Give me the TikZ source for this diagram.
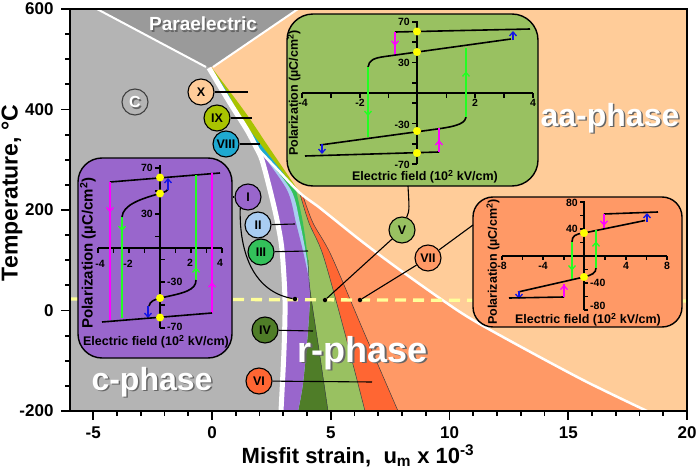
\documentclass[tikz,border=0pt]{standalone}
\usepackage{fontspec}
\setmainfont{Liberation Sans}
\usetikzlibrary{arrows.meta,decorations.markings}
\definecolor{cgray}{HTML}{B4B4B4}
\definecolor{pgray}{HTML}{9A9A9A}
\definecolor{peach}{HTML}{FFCC99}
\definecolor{salmon}{HTML}{FF9966}
\definecolor{redor}{HTML}{FF6633}
\definecolor{lgreen}{HTML}{99C161}
\definecolor{dgreen}{HTML}{4F7D28}
\definecolor{mgreen}{HTML}{33C15A}
\definecolor{lblue}{HTML}{A9CDF2}
\definecolor{purp}{HTML}{9966CC}
\definecolor{cyanb}{HTML}{1FA9D1}
\definecolor{ygreen}{HTML}{A9C300}
\definecolor{dashy}{HTML}{FFFF99}
\definecolor{magent}{HTML}{FF00FF}
\definecolor{greenl}{HTML}{22FF22}
\definecolor{bluea}{HTML}{1414E6}
\definecolor{yel}{HTML}{FFFF00}
\begin{document}
\begin{tikzpicture}[x=1pt,y=-1pt,
  fs/.style={font=\bfseries\fontsize{#1}{#1}\selectfont},
  lab/.style={circle,draw=black,line width=1.1pt,minimum size=26pt,inner sep=0pt,fs=12.5},
  dotb/.style={circle,fill=black,minimum size=4.5pt,inner sep=0pt},
  ydot/.style={circle,fill=yel,minimum size=8pt,inner sep=0pt},
  conn/.style={line width=1.1pt},
  hl/.style={line width=1.6pt,black},
  midarr/.style={postaction={decorate},decoration={markings,mark=at position #1 with {\arrow{Straight Barb[length=4pt,width=7pt,line width=1.3pt]}}}},
  tipup/.style={-{Straight Barb[length=4pt,width=7pt,line width=1.3pt]}},
  mg/.style={magent,line width=1.7pt},
  gr/.style={greenl,line width=1.7pt},
  bl/.style={bluea,line width=1.7pt},
  inset/.style={draw=black,line width=1.4pt,rounded corners=#1,inner sep=0pt},
  tk/.style={fs=10.5,inner sep=1pt},
  ptxt/.style={text=white},
  pshadow/.style={text=black!60,xshift=1.5pt,yshift=-1.5pt},
  thinb/.style={black!75,line width=0.5pt},
]
\fill[white] (0,0) rectangle (697,471);
\useasboundingbox (0,0) rectangle (697,471);

% ---------- phase regions ----------
\fill[cgray] (70,9) rectangle (687,411);
\fill[pgray] (97,9) -- (207,67) -- (212,67) -- (298,9) -- cycle;
\fill[peach] (212,67) -- (298,9) -- (687,9) -- (687,411) -- plot[smooth] coordinates {(281,411) (284,350) (285,300) (282,250) (277,220) (270,190) (262,160) (256,147) (247,130) (230,103) (209,68)} -- cycle;
% thin wedges IX and VIII
\fill[ygreen] plot[smooth] coordinates {(209,68) (230,103) (247,130) (256,147)} -- plot[smooth] coordinates {(256,147) (276,168) (300,193)} -- plot[smooth] coordinates {(300,193) (266,143) (250,119) (231,93) (212,68)} -- cycle;
\fill[cyanb] plot[smooth] coordinates {(209,68) (230,103) (247,130) (256,147)} -- plot[smooth] coordinates {(256,147) (276,168) (298,192)} -- plot[smooth] coordinates {(298,192) (261,145) (241,118) (227,92) (211,68)} -- cycle;
% VII
\fill[salmon] plot[smooth] coordinates {(256,147) (276,168) (300,193) (320,208) (360,240) (400,270) (460,312) (503,337) (583,380) (647,411)} -- plot[smooth] coordinates {(281,411) (284,350) (285,300) (282,250) (277,220) (270,190) (262,160) (256,147)} -- cycle;
% VI
\fill[redor] plot[smooth] coordinates {(256,147) (276,168) (303,196)} -- plot[smooth] coordinates {(303,196) (313,223) (331,255) (363,330) (398,411)} -- plot[smooth] coordinates {(281,411) (284,350) (285,300) (282,250) (277,220) (270,190) (262,160) (256,147)} -- cycle;
% V
\fill[lgreen] plot[smooth] coordinates {(256,147) (276,168) (300,194)} -- plot[smooth] coordinates {(300,194) (309,223) (323,255) (344,330) (365,411)} -- plot[smooth] coordinates {(281,411) (284,350) (285,300) (282,250) (277,220) (270,190) (262,160) (256,147)} -- cycle;
% III
\fill[mgreen] plot[smooth] coordinates {(256,147) (276,168) (296,190)} -- plot[smooth] coordinates {(296,190) (303,223) (308,260) (310,290) (319,350) (328,411)} -- plot[smooth] coordinates {(281,411) (284,350) (285,300) (282,250) (277,220) (270,190) (262,160) (256,147)} -- cycle;
% IV
\fill[dgreen] plot[smooth] coordinates {(310,290) (319,350) (328,411)} -- plot[smooth] coordinates {(298,411) (303,383) (308,330) (310,290)} -- cycle;
% II
\fill[lblue] (256,147) -- plot[smooth] coordinates {(262,153) (291,190) (300,223) (307,260) (310,290) (308,330) (303,383) (298,411)} -- plot[smooth] coordinates {(281,411) (284,350) (285,300) (282,250) (277,220) (270,190) (262,160) (256,147)} -- cycle;
% I
\fill[purp] (256,147) -- plot[smooth] coordinates {(259,150) (287,190) (296,223) (305,260) (310,290) (308,330) (303,383) (298,411)} -- plot[smooth] coordinates {(281,411) (284,350) (285,300) (282,250) (277,220) (270,190) (262,160) (256,147)} -- cycle;
% thin boundaries
\draw[thinb] plot[smooth] coordinates {(303,196) (313,223) (331,255) (363,330) (398,411)};
\draw[thinb] plot[smooth] coordinates {(300,194) (309,223) (323,255) (344,330) (365,411)};
\draw[thinb] plot[smooth] coordinates {(308,260) (310,290) (319,350) (328,411)};
% white boundaries
\draw[white,line width=2.5pt] plot[smooth] coordinates {(256,147) (276,168) (300,193) (320,208) (360,240) (400,270) (460,312) (503,337) (583,380) (647,411)};
\draw[white,line width=5pt] plot[smooth] coordinates {(209,68) (230,103) (247,130) (256,147) (262,160) (270,190) (277,220) (282,250) (285,300) (284,350) (281,411)};
\draw[white,line width=2pt] (97,9) -- (206,67);
\draw[white,line width=2pt] (213,67) -- (298,9);
% dashed line
\draw[dashy,line width=3.3pt,dash pattern=on 11pt off 7pt] (71,299) -- (686,301);

% ---------- phase names ----------
\node[fs=19,pshadow] (para0) at (203,24) {Paraelectric};
\node[fs=19,ptxt] (para) at (203,24) {Paraelectric};
\node[fs=32,pshadow] (aa0) at (610,118) {aa-phase};
\node[fs=32,ptxt] (aa) at (610,118) {aa-phase};
\node[fs=36,pshadow] (rr0) at (363,353) {r-phase};
\node[fs=36,ptxt] (rr) at (363,353) {r-phase};
\node[fs=32,pshadow] (cc0) at (152,382) {c-phase};
\node[fs=32,ptxt] (cc) at (152,382) {c-phase};

% ---------- inset V (green) ----------
\node[inset=26pt,fill=lgreen,minimum width=251pt,minimum height=172pt] (insetV) at (412.5,100) {};
\draw[hl] (302,93) -- (533,93);
\foreach \i in {0,...,8} \draw[hl] ({302+28.875*\i},93) -- ++(0,5);
\draw[hl] (417,21) -- (417,164);
\foreach \p in {70,50,30,10,-10,-30,-50,-70} \draw[hl] (417,{93-1.014*\p}) -- ++(-5,0);
\node[tk] (gx1) at (303,103) {-4};
\node[tk] (gx2) at (360,103) {-2};
\node[tk] (gx3) at (475,103) {2};
\node[tk] (gx4) at (533,103) {4};
\node[tk,anchor=east] (gy1) at (411,22) {70};
\node[tk,anchor=east] (gy2) at (411,63) {30};
\node[tk,anchor=east] (gy3) at (411,125) {-30};
\node[tk,anchor=east] (gy4) at (411,165) {-70};
\node[fs=12.5,rotate=90] (gpy) at (294,93) {Polarization (µC/cm\textsuperscript{2})};
\node[fs=12.5] (gpx) at (425,177) {Electric field (10\textsuperscript{2} kV/cm)};
\draw[hl] (395,32) -- (530,29);
\draw[mg,midarr=0.6] (395,32) -- (395,55);
\draw[hl] (368,67) .. controls (369,60) and (374,58) .. (385,56.5) -- (511,39);
\draw[bl,tipup] (513,40) -- (513,31);
\draw[gr,midarr=0.7] (368,67) -- (368,137);
\draw[hl] (320,145) -- (430,130) .. controls (452,127) and (465,125) .. (466,117);
\draw[gr,midarr=0.66] (466,117) -- (466,48);
\draw[bl,tipup] (322,144) -- (322,154);
\draw[hl] (305,156) -- (439,152);
\draw[mg,midarr=0.5] (439,152) -- (439,128);
\node[ydot] (gd1) at (417,31.5) {};
\node[ydot] (gd2) at (417,52) {};
\node[ydot] (gd3) at (417,131) {};
\node[ydot] (gd4) at (417,153) {};

% ---------- inset I (purple) ----------
\node[inset=24pt,fill=purp,minimum width=154pt,minimum height=200pt] (insetI) at (155,258) {};
\draw[hl] (98,248) -- (222,248);
\foreach \i in {0,...,8} \draw[hl] ({98+15.5*\i},248) -- ++(0,5);
\draw[hl] (160,165) -- (160,328);
\foreach \p in {70,50,30,10} \draw[hl] (160,{248-1.14*\p}) -- ++(-5,0);
\foreach \p in {-10,-30,-50,-70} \draw[hl] (160,{248-1.14*\p}) -- ++(5,0);
\node[tk] (px1) at (100,264) {-4};
\node[tk] (px2) at (128,264) {-2};
\node[tk] (px3) at (190,263) {2};
\node[tk] (px4) at (220,263) {4};
\node[tk,anchor=east] (py1) at (154,168) {70};
\node[tk,anchor=east] (py2) at (154,214) {30};
\node[tk,anchor=west] (py3) at (166,282) {-30};
\node[tk,anchor=west] (py4) at (166,327) {-70};
\node[fs=15,rotate=90] (ppy) at (88,253) {Polarization (µC/cm\textsuperscript{2})};
\node[fs=12.5] (ppx) at (156,342) {Electric field (10\textsuperscript{2} kV/cm)};
\draw[hl] (110,182) -- (220,173);
\draw[mg,midarr=0.22] (110,182) -- (110,320);
\draw[gr,midarr=0.14] (122,217) -- (122,318);
\draw[hl] (122,217) .. controls (123,205) and (140,199) .. (160,193.5) .. controls (165,192) and (168,191) .. (168,188);
\draw[bl,tipup] (168,190) -- (168,178);
\draw[gr,midarr=0.12] (196,280) -- (196,175);
\draw[hl] (149,306) .. controls (150,301) and (155,299.5) .. (160,298) .. controls (185,293) and (196,290) .. (196,280);
\draw[bl,tipup] (148,306) -- (148,318);
\draw[mg,midarr=0.22] (212,313) -- (212,173);
\draw[hl] (102,322) -- (212,313);
\node[ydot] (pd1) at (160,177.5) {};
\node[ydot] (pd2) at (160,193.5) {};
\node[ydot] (pd3) at (160,298) {};
\node[ydot] (pd4) at (160,317.5) {};

% ---------- inset VII (orange) ----------
\node[inset=20pt,fill=salmon,minimum width=209pt,minimum height=130pt] (insetVII) at (577.5,262) {};
\draw[hl] (502,256) -- (667,256);
\foreach \i in {0,...,8} \draw[hl] ({502+20.625*\i},256) -- ++(0,4);
\draw[hl] (584,201) -- (584,310);
\foreach \p in {80,60,40,20} \draw[hl] (584,{256-0.675*\p}) -- ++(-4,0);
\foreach \p in {-20,-40,-60,-80} \draw[hl] (584,{256-0.675*\p}) -- ++(4,0);
\node[tk] (ox1) at (502,266) {-8};
\node[tk] (ox2) at (543,266) {-4};
\node[tk] (ox3) at (626,266) {4};
\node[tk] (ox4) at (667,266) {8};
\node[tk,anchor=east] (oy1) at (579,203) {80};
\node[tk,anchor=east] (oy2) at (579,229) {40};
\node[tk,anchor=west] (oy3) at (589,283) {-40};
\node[tk,anchor=west] (oy4) at (589,305.5) {-80};
\node[fs=12.5,rotate=90] (opy) at (493,262) {Polarization (µC/cm\textsuperscript{2})};
\node[fs=12.5] (opx) at (588,319.5) {Electric field (10\textsuperscript{2} kV/cm)};
\draw[hl] (604,214) -- (658,212);
\draw[mg,midarr=0.85] (604,214) -- (604,228);
\draw[hl] (572,242) .. controls (572,236) and (575,234) .. (584,233) -- (645,220.5);
\draw[bl,tipup] (647,222) -- (647,213);
\draw[gr,midarr=0.75] (572,242) -- (572,280);
\draw[hl] (518,292) -- (584,277) .. controls (592,275) and (596,273) .. (596,268);
\draw[gr,midarr=0.7] (596,268) -- (596,230);
\draw[bl,tipup] (519,291) -- (519,299);
\draw[hl] (509,298) -- (564,297);
\draw[mg,midarr=0.95] (564,297) -- (564,284);
\node[ydot] (od1) at (584,233) {};
\node[ydot] (od2) at (584,277) {};

% ---------- label circles ----------
\node[lab,fill=cgray,draw=black!75] (cC) at (135,102) {};
\node[fs=16,pshadow] (cC0) at (135,102) {C};
\node[fs=16,ptxt] (cCt) at (135,102) {C};
\node[lab,fill=peach] (cX) at (201,92) {X};
\node[lab,fill=ygreen] (cIX) at (217,118) {IX};
\node[lab,fill=cyanb] (cVIII) at (226,144) {VIII};
\node[lab,fill=purp] (cI) at (248,197) {I};
\node[lab,fill=lblue] (cII) at (258,225) {II};
\node[lab,fill=mgreen] (cIII) at (261,252) {III};
\node[lab,fill=dgreen] (cIV) at (265,330) {IV};
\node[lab,fill=lgreen] (cV) at (402,230) {V};
\node[lab,fill=redor] (cVI) at (259,381) {VI};
\node[lab,fill=salmon] (cVII) at (428,258) {VII};
\node[dotb] (d1) at (295,299) {};
\node[dotb] (d2) at (325,300) {};
\node[dotb] (d3) at (360,300) {};
\coordinate (eX) at (248,92);
\coordinate (eIX) at (252,118);
\coordinate (eVIII) at (260,144);
\coordinate (eII) at (295,224);
\coordinate (eIII) at (308,251);
\coordinate (eIV) at (313,331);
\coordinate (eVI) at (372,382);
\coordinate (eVII) at (473,225);
\coordinate (eV) at (408,186);
\draw[conn] (cX) -- (eX);
\draw[conn] (cIX) -- (eIX);
\draw[conn] (cVIII) -- (eVIII);
\draw[conn] (cI.west) -- (cI.west -| insetI.east);
\draw[conn] (cI.235) .. controls (239,255) and (255,292) .. (d1);
\draw[conn] (cII) -- (eII);
\draw[conn] (cIII) -- (eIII);
\draw[conn] (cIV) -- (eIV);
\draw[conn] (cVI) -- (eVI);
\draw[conn] (eV) .. controls (409,205) and (410,211) .. (cV.70);
\draw[conn] (cV) -- (d2);
\draw[conn] (cVII) -- (eVII);
\draw[conn] (cVII) -- (d3);

% ---------- axes ----------
\draw[line width=2.5pt] (70,9) rectangle (687,411);
\foreach \u in {-5,...,20} \draw[line width=1.8pt] ({212+23.75*\u},411) -- ++(0,5);
\foreach \u in {-5,0,5,10,15,20} \draw[line width=1.8pt] ({212+23.75*\u},411) -- ++(0,9);
\foreach \t in {-150,-100,...,550} \draw[line width=1.8pt] (70,{310.5-0.5025*\t}) -- ++(-5,0);
\foreach \t in {-200,0,200,400,600} \draw[line width=1.8pt] (70,{310.5-0.5025*\t}) -- ++(-9,0);
\node[fs=17] (xa) at (93.25,433) {-5};
\node[fs=17] (xb) at (212,433) {0};
\node[fs=17] (xc) at (330.75,433) {5};
\node[fs=17] (xd) at (449.5,433) {10};
\node[fs=17] (xe) at (568.25,433) {15};
\node[fs=17] (xf) at (687,433) {20};
\node[fs=17,anchor=east] (ya) at (57,9) {600};
\node[fs=17,anchor=east] (yb) at (57,109.5) {400};
\node[fs=17,anchor=east] (yc) at (57,210) {200};
\node[fs=17,anchor=east] (yd) at (57,310.5) {0};
\node[fs=17,anchor=east] (ye) at (57,411) {-200};
\node[fs=22] (xt) at (358,456) {Misfit strain,\ \ u\textsubscript{m} x 10\textsuperscript{-3}};
\node[fs=23,rotate=90] (yt) at (12,193) {Temperature, °C};
\end{tikzpicture}
\end{document}
